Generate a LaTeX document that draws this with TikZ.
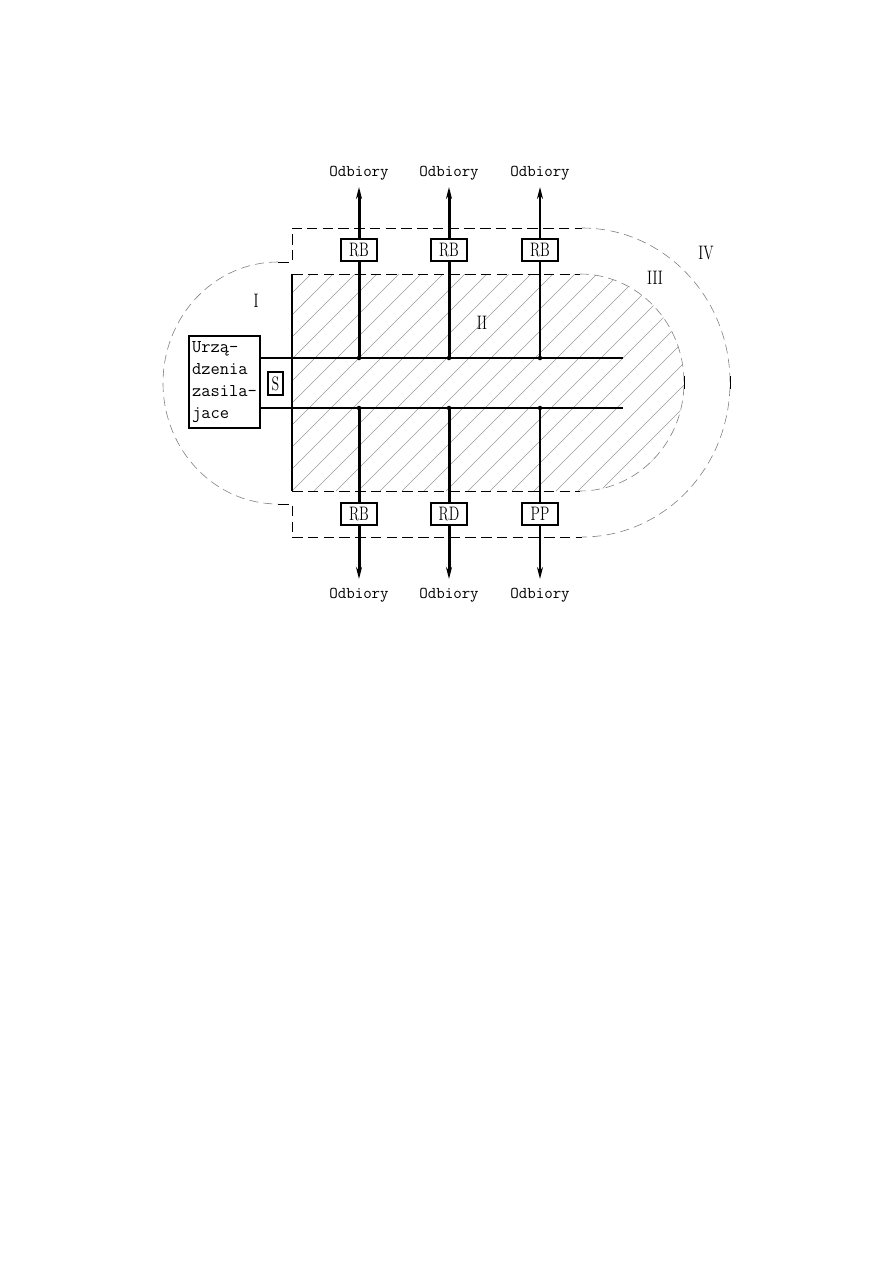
\documentclass[tikz,border=0pt]{standalone}
\usepackage{fontspec}
\usepackage{graphicx}
\usetikzlibrary{arrows.meta,positioning}
\tikzset{
  opis/.style    = {draw, line width=0.8pt, fill=white, minimum width=24pt, minimum height=14.6pt,
                    inner sep=0pt, font=\fontsize{13}{13}\selectfont},
  zasil/.style   = {draw, line width=0.8pt, minimum width=47.3pt, minimum height=61.3pt, inner sep=1.5pt,
                    align=left, font=\ttfamily\fontsize{12}{14.5}\selectfont},
  odb/.style     = {font=\ttfamily\fontsize{11}{11}\selectfont, inner sep=0pt, anchor=base},
  strefa/.style  = {font=\fontsize{13}{13}\selectfont, inner sep=0pt},
  szyna/.style   = {line width=1.1pt},
  grot/.style    = {-{Stealth[length=8pt,width=4pt]}},
  granica/.style = {dash pattern=on 7pt off 3.5pt, line width=0.5pt},
  luk/.style     = {gray, dash pattern=on 6pt off 3.5pt, line width=0.4pt},
  hatch/.style   = {gray!80, line width=0.35pt},
}
\newcommand{\waski}[1]{\scalebox{0.72}[1]{#1}}

\begin{document}
\begin{tikzpicture}[x=0.6667pt,y=-0.6667pt]
  \useasboundingbox (0,0) rectangle (893,1263);
  % strefa II (zakreskowana)
  \begin{scope}
    \clip (292,274) -- (580,274) arc[start angle=-90,end angle=90,x radius=104,y radius=108.5]
      -- (292,491) -- cycle;
    \foreach \k in {-10,...,18}{
      \draw[hatch] (292+22*\k,491) -- ++(230,-230);}
  \end{scope}
  % granice stref
  \draw[granica] (278,262) -- (292,262) -- (292,228) -- (582,228);
  \draw[granica] (278,504) -- (292,504) -- (292,537) -- (582,537);
  \draw[granica] (292,274) -- (580,274);
  \draw[granica] (292,491) -- (580,491);
  \draw[luk] (582,228) arc[start angle=-90,end angle=90,x radius=148,y radius=154.5];
  \draw[luk] (580,274) arc[start angle=-90,end angle=90,x radius=104,y radius=108.5];
  \draw[luk] (278,262) arc[start angle=-90,end angle=-270,x radius=115,y radius=121];
  \draw[line width=0.5pt] (684,376) -- (684,389);
  \draw[line width=0.5pt] (730,376) -- (730,389);
  \draw[szyna] (292,274) -- (292,491);
  % zasilanie i szyny
  \node[zasil] (zas) at (224.5,382) {Urzą-\\dzenia\\zasila-\\jace};
  \node[opis, minimum width=10pt, minimum height=15.3pt] (s) at (275.5,383.5) {\waski{S}};
  \coordinate (gl) at (260,358);
  \coordinate (gp) at (623,358);
  \coordinate (dl) at (260,408);
  \coordinate (dp) at (623,408);
  \draw[szyna] (gl) -- (gp);
  \draw[szyna] (dl) -- (dp);
  % odplywy
  \foreach \x/\n/\nazwaG/\nazwaD/\w in {359/1/RB/RB/2pt,449/2/RB/RD/2pt,540/3/RB/PP/1.2pt}{
    \coordinate (jg\n) at (\x,358);
    \coordinate (jd\n) at (\x,408);
    \coordinate (tg\n) at (\x,187);
    \coordinate (td\n) at (\x,579);
    \node[opis] (rg\n) at (\x,250) {\waski{\nazwaG}};
    \node[opis] (rd\n) at (\x,514) {\waski{\nazwaD}};
    \node[odb] (og\n) at (\x,176) {Odbiory};
    \node[odb] (od\n) at (\x,598) {Odbiory};
    \draw[line width=\w] (jg\n) -- (rg\n);
    \draw[line width=\w,grot] (rg\n) -- (tg\n);
    \draw[line width=\w] (jd\n) -- (rd\n);
    \draw[line width=\w,grot] (rd\n) -- (td\n);
    \fill (jg\n) circle[radius=1.5pt];
    \fill (jd\n) circle[radius=1.5pt];}
  % oznaczenia stref
  \node[strefa] (st1) at (256,301) {\waski{I}};
  \node[strefa] (st2) at (482,323) {\waski{II}};
  \node[strefa] (st3) at (655,278) {\waski{III}};
  \node[strefa] (st4) at (706,253) {\waski{IV}};
\end{tikzpicture}
\end{document}
